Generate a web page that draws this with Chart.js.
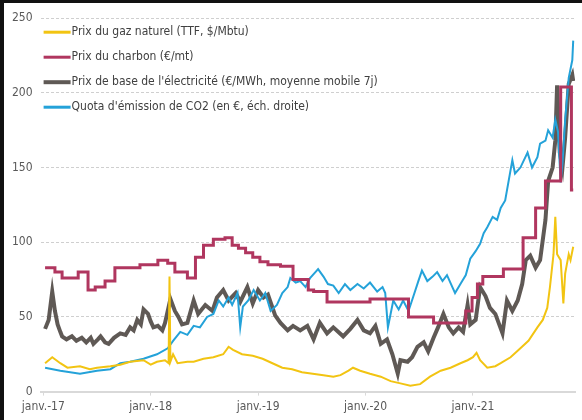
<!DOCTYPE html>
<html>
<head>
<meta charset="utf-8">
<script src="https://cdn.jsdelivr.net/npm/chart.js@4.4.1/dist/chart.umd.min.js"></script>
<style>
  html, body { margin: 0; padding: 0; background: #fff; }
  #frame {
    width: 582px; height: 420px; box-sizing: border-box;
    border-left: 4px solid #111; border-top: 3px solid #111;
    position: relative;
  }
  #chart { display: block; }
</style>
</head>
<body>
<div id="frame"><canvas id="chart"></canvas></div>
<script>
// x positions are months since January 2017
const xTickMonths = [0, 12, 24, 36, 48];
const xTickLabels = ['janv.-17', 'janv.-18', 'janv.-19', 'janv.-20', 'janv.-21'];
const seriesLabels = [
  'Prix du gaz naturel (TTF, $/Mbtu)',
  'Prix du charbon (€/mt)',
  "Prix de base de l'électricité (€/MWh, moyenne mobile 7j)",
  "Quota d'émission de CO2 (en €, éch. droite)"
];

const gasMonths = [0.2,1.0,1.9,2.7,4.1,5.2,6.0,7.5,8.6,9.7,11.2,12.0,12.7,13.6,14.0,14.1,14.2,14.5,15.0,16.1,16.8,17.9,19.0,20.1,20.7,21.2,22.2,23.4,24.5,25.6,26.7,27.8,28.9,30.1,31.3,32.4,33.2,34.1,34.6,35.4,36.5,37.7,38.8,39.9,41.0,42.1,43.2,44.4,45.5,46.6,47.4,48.0,48.4,48.8,49.6,50.5,51.1,52.2,53.3,54.2,55.2,55.8,56.3,56.6,57.0,57.2,57.4,57.8,58.1,58.3,58.7,58.9,59.2];
const gasValues = [19,23,19,16,17,15,16,17,18,20,21,18,20,21,19,77,20,25,19,20,20,22,23,25,30,28,25,24,22,19,16,15,13,12,11,10,11,14,16,14,12,10,7,5.5,4,5,10,14,16,19,21,23,26,21,16,17,19,23,29,34,43,48,56,70,92,117,92,88,59,79,92,88,97];

const coalMonths = [0.2,1.3,2.1,3.9,5.0,5.8,6.9,8.0,10.8,12.8,13.9,14.7,16.1,17.0,17.9,19.0,20.3,21.1,21.8,22.6,23.4,24.2,25.1,26.5,27.9,29.6,30.2,31.7,36.5,40.8,43.6,47.2,47.9,48.5,49.1,51.4,53.6,55.0,56.1,57.8,59.0,59.2];
const coalValues = [83,80,76,80,68,70,74,83,85,88,86,80,76,90,98,102,103,98,96,93,90,87,85,84,75,68,67,60,62,50,46,54,63,72,77,82,103,123,141,204,135,135];

const elecMonths = [0.2,0.6,1.0,1.3,1.6,1.9,2.1,2.6,3.2,3.7,4.3,4.8,5.3,5.6,6.1,6.4,6.9,7.3,7.9,8.6,9.2,9.7,10.1,10.5,10.9,11.2,11.7,12.0,12.3,12.8,13.3,13.6,14.2,14.7,15.1,15.5,16.1,16.8,17.3,18.1,18.9,19.4,20.1,20.7,21.5,22.0,22.8,23.4,24.0,24.6,25.1,25.9,26.5,27.3,27.9,28.7,29.5,30.2,30.9,31.7,32.4,33.5,34.3,35.1,35.8,36.5,37.1,37.7,38.4,39.0,39.6,39.9,40.7,41.2,41.8,42.5,43.0,43.6,44.1,44.7,45.3,45.8,46.4,46.9,47.4,47.7,48.3,48.8,49.4,49.9,50.5,51.3,51.8,52.4,53.0,53.5,53.9,54.4,55.0,55.5,56.1,56.4,56.9,57.2,57.4,57.7,58.0,58.3,58.7,59.1,59.2];
const elecValues = [42,48,67,54,45,40,37,35,37,34,36,33,36,32,35,37,33,32,36,39,38,43,41,48,45,55,52,47,43,44,41,46,62,54,50,45,46,61,52,58,54,63,68,61,66,60,70,59,68,63,65,51,46,41,44,41,44,35,46,39,43,37,42,48,41,39,44,32,35,25,12,21,20,23,30,33,27,36,43,52,43,39,43,40,58,45,48,70,64,56,52,39,61,54,61,72,88,91,83,88,115,141,150,168,205,160,150,170,206,212,208];

const co2Months = [0.2,1.9,4.1,6.0,7.5,8.6,9.7,11.2,12.7,13.9,14.5,15.3,16.1,16.8,17.5,18.3,19.0,19.6,20.1,20.7,21.1,21.7,22.0,22.3,22.9,23.5,24.2,24.8,25.4,26.1,26.7,27.3,27.6,28.2,28.7,29.3,29.8,30.4,30.7,31.3,31.8,32.4,33.0,33.7,34.3,35.1,35.8,36.5,37.3,37.9,38.2,38.5,39.1,39.7,40.2,40.8,41.3,41.9,42.3,42.9,43.5,44.0,44.6,45.1,45.7,46.0,46.6,47.2,47.7,48.3,48.8,49.2,49.6,50.2,50.7,51.1,51.6,52.4,52.7,53.3,54.1,54.6,55.2,55.5,56.1,56.4,56.9,57.2,57.5,57.8,58.0,58.3,58.7,59.1,59.2];
const co2Values = [16,14,12,14,15,19,20,22,25,29,34,40,38,44,43,50,52,61,57,63,58,66,43,57,61,68,61,66,54,58,66,70,76,73,74,70,76,80,82,77,72,71,66,72,68,72,69,73,67,70,66,43,61,55,61,54,63,74,81,74,77,80,74,78,70,66,72,78,89,94,99,106,110,117,115,123,128,155,146,150,160,150,157,166,168,175,170,182,174,140,153,182,210,222,235];

const fontFamily = "'Liberation Sans Narrow', 'DejaVu Sans Condensed', 'Liberation Sans', sans-serif";

function toPoints(months, values) {
  return months.map((m, i) => ({ x: m, y: values[i] }));
}

// legend drawn inside the plot, stacked, line + text
const insideLegend = {
  id: 'insideLegend',
  afterDraw(chart) {
    const { ctx, chartArea } = chart;
    ctx.save();
    ctx.font = '12px ' + fontFamily;
    ctx.textBaseline = 'middle';
    ctx.textAlign = 'left';
    chart.data.datasets.forEach((ds, i) => {
      const x = chartArea.left + 3;
      const y = chartArea.top + 14 + i * 25;
      ctx.strokeStyle = ds.borderColor;
      ctx.lineWidth = Math.max(3, ds.borderWidth);
      ctx.beginPath();
      ctx.moveTo(x, y);
      ctx.lineTo(x + 27, y);
      ctx.stroke();
      ctx.fillStyle = '#404040';
      ctx.fillText(ds.label, x + 28, y);
    });
    ctx.restore();
  }
};

const frame = document.getElementById('frame');
const canvas = document.getElementById('chart');
canvas.width = frame.clientWidth;
canvas.height = frame.clientHeight;

new Chart(canvas.getContext('2d'), {
  type: 'line',
  data: {
    datasets: [
      {
        label: seriesLabels[0],
        data: toPoints(gasMonths, gasValues),
        borderColor: '#F2C412',
        borderWidth: 2,
        order: 0
      },
      {
        label: seriesLabels[1],
        data: toPoints(coalMonths, coalValues),
        borderColor: '#B0365F',
        borderWidth: 3,
        stepped: true,
        order: 1
      },
      {
        label: seriesLabels[2],
        data: toPoints(elecMonths, elecValues),
        borderColor: '#5F5955',
        borderWidth: 4,
        order: 3
      },
      {
        label: seriesLabels[3],
        data: toPoints(co2Months, co2Values),
        borderColor: '#24A2D9',
        borderWidth: 2,
        order: 2
      }
    ]
  },
  options: {
    responsive: false,
    animation: false,
    layout: { padding: { left: 0, right: 7, top: 8, bottom: 2 } },
    elements: {
      point: { radius: 0 },
      line: { tension: 0, fill: false }
    },
    plugins: {
      legend: { display: false },
      tooltip: { enabled: false }
    },
    scales: {
      x: {
        type: 'linear',
        min: -0.3,
        max: 59.4,
        afterBuildTicks: (axis) => {
          axis.ticks = xTickMonths.map(v => ({ value: v }));
        },
        ticks: {
          autoSkip: false,
          maxRotation: 0,
          padding: 4,
          color: '#595959',
          font: { family: fontFamily, size: 12 },
          callback: (value) => xTickLabels[xTickMonths.indexOf(value)]
        },
        grid: { drawOnChartArea: false, drawTicks: true, tickLength: 4, color: '#d9d9d9' },
        border: { display: true, color: '#d9d9d9', width: 2 }
      },
      y: {
        min: 0,
        max: 250,
        ticks: {
          stepSize: 50,
          padding: 8,
          color: '#595959',
          font: { family: fontFamily, size: 12 }
        },
        grid: { drawTicks: false, color: '#cfcfcf', lineWidth: 1 },
        border: { display: false, dash: [3, 2] }
      }
    }
  },
  plugins: [insideLegend]
});
</script>
</body>
</html>
